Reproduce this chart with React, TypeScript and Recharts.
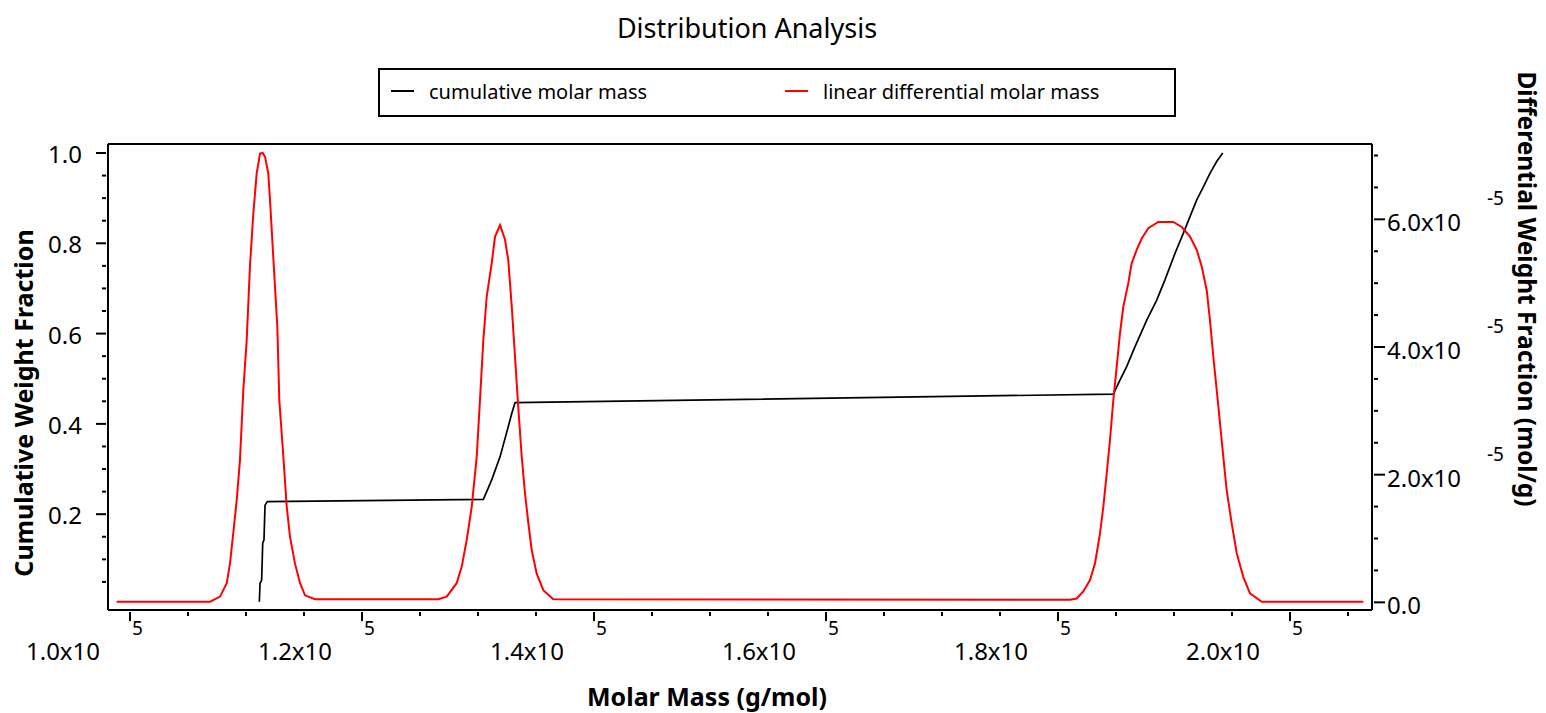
import React from 'react';
import { ComposedChart, Line, XAxis, YAxis, Legend, Label, ReferenceLine } from 'recharts';

// ---- data ----
const diffMass = [
  98850, 106900, 107760, 108340, 108620, 108900, 109200, 109480, 109770, 110060,
  110340, 110630, 110920, 111210, 111440, 111640, 111920, 112070, 112350, 112700,
  112870, 113220, 113510, 113790, 114220, 114660, 115090, 115950, 126580, 127300,
  128160, 128600, 129030, 129460, 129890, 130170, 130460, 130750, 131180, 131470,
  131900, 132330, 132610, 132910, 133190, 133470, 133770, 134050, 134340, 134630,
  135060, 135630, 136490, 181030, 181610, 182180, 182760, 183190, 183620, 183910,
  184200, 184480, 184770, 185060, 185340, 185630, 186060, 186350, 186780, 187220,
  187780, 188650, 189940, 190660, 191380, 191960, 192390, 192820, 193100, 193390,
  193680, 193970, 194250, 194540, 194970, 195410, 195970, 196550, 197560, 206320,
];
const diffFraction = [
  0.01e-5, 0.01e-5, 0.09e-5, 0.30e-5, 0.61e-5, 1.08e-5, 1.60e-5, 2.23e-5, 3.33e-5, 4.11e-5,
  5.26e-5, 6.09e-5, 6.72e-5, 7.03e-5, 7.04e-5, 6.98e-5, 6.72e-5, 6.30e-5, 5.41e-5, 4.32e-5,
  3.17e-5, 2.28e-5, 1.50e-5, 1.03e-5, 0.61e-5, 0.30e-5, 0.11e-5, 0.05e-5, 0.05e-5, 0.09e-5,
  0.30e-5, 0.56e-5, 0.98e-5, 1.50e-5, 2.28e-5, 3.17e-5, 4.11e-5, 4.79e-5, 5.31e-5, 5.73e-5,
  5.91e-5, 5.68e-5, 5.36e-5, 4.63e-5, 3.85e-5, 3.06e-5, 2.28e-5, 1.71e-5, 1.24e-5, 0.82e-5,
  0.45e-5, 0.19e-5, 0.05e-5, 0.04e-5, 0.06e-5, 0.17e-5, 0.35e-5, 0.61e-5, 1.08e-5, 1.50e-5,
  2.02e-5, 2.54e-5, 3.17e-5, 3.69e-5, 4.21e-5, 4.63e-5, 5.00e-5, 5.31e-5, 5.52e-5, 5.70e-5,
  5.86e-5, 5.96e-5, 5.96e-5, 5.88e-5, 5.73e-5, 5.52e-5, 5.26e-5, 4.89e-5, 4.42e-5, 3.85e-5,
  3.33e-5, 2.80e-5, 2.28e-5, 1.76e-5, 1.24e-5, 0.77e-5, 0.40e-5, 0.14e-5, 0.01e-5, 0.01e-5,
];
const cumMass = [
  111150, 111210, 111350, 111440, 111550, 111640, 111840, 130460, 130750, 131180,
  131900, 132610, 132910, 133190, 184770, 185340, 185920, 186640, 187650, 188510,
  189220, 190090, 190800, 191380, 191960, 192530, 193100, 193680, 194200,
];
const cumFraction = [
  0.006, 0.047, 0.054, 0.136, 0.143, 0.220, 0.228, 0.233, 0.250, 0.276,
  0.327, 0.394, 0.423, 0.447, 0.466, 0.497, 0.527, 0.571, 0.630, 0.674,
  0.719, 0.778, 0.822, 0.859, 0.896, 0.925, 0.955, 0.981, 1.000,
];

const seriesNames = ['cumulative molar mass', 'linear differential molar mass'];
const seriesColors = ['#000000', '#ff0000'];

const xTicks = [
  100000, 105000, 110000, 115000, 120000, 125000, 130000, 135000, 140000, 145000, 150000,
  155000, 160000, 165000, 170000, 175000, 180000, 185000, 190000, 195000, 200000, 205000,
];
const xMajor = [100000, 120000, 140000, 160000, 180000, 200000];
const leftTicks = [
  0.05, 0.1, 0.15, 0.2, 0.25, 0.3, 0.35, 0.4, 0.45, 0.5, 0.55, 0.6, 0.65, 0.7, 0.75, 0.8,
  0.85, 0.9, 0.95, 1.0,
];
const leftMajor = [0.2, 0.4, 0.6, 0.8, 1.0];
const rightTicks = [
  0, 0.5e-5, 1e-5, 1.5e-5, 2e-5, 2.5e-5, 3e-5, 3.5e-5, 4e-5, 4.5e-5, 5e-5, 5.5e-5, 6e-5,
  6.5e-5, 7e-5,
];
const rightMajor = [0, 2e-5, 4e-5, 6e-5];

const xDomain = [98103, 207069];
const leftDomain = [-0.0122, 1.0199];
const rightDomain = [-0.12e-5, 7.18e-5];

const FONT = "'Noto Sans', 'Open Sans', sans-serif";

const diffData = diffMass.map((m, i) => ({ m, v: diffFraction[i] }));
const cumData = cumMass.map((m, i) => ({ m, v: cumFraction[i] }));

const near = (a: number, list: number[], eps: number) => list.some((b) => Math.abs(a - b) < eps);

const XTick = (props: any) => {
  const { x, y, payload } = props;
  const v = payload.value;
  const major = near(v, xMajor, 1);
  return (
    <g>
      <line x1={x} x2={x} y1={y + 2} y2={y + (major ? 11 : 6)} stroke="#000" strokeWidth={2} />
      {major && (
        <text x={x + 2} y={y + 25} fontSize={19} fontFamily={FONT} fill="#000">5</text>
      )}
      {major && (
        <text x={x - 67} y={y + 50} fontSize={24} fontFamily={FONT} fill="#000" textAnchor="middle">
          {(v / 1e5).toFixed(1) + 'x10'}
        </text>
      )}
    </g>
  );
};

const LeftTick = (props: any) => {
  const { x, y, payload } = props;
  const v = payload.value;
  const major = near(v, leftMajor, 1e-6);
  return (
    <g>
      <line x1={x - 2} x2={x - (major ? 12 : 6)} y1={y} y2={y} stroke="#000" strokeWidth={2} />
      {major && (
        <text x={x - 26} y={y + 10} fontSize={24} fontFamily={FONT} fill="#000" textAnchor="end">
          {v.toFixed(1)}
        </text>
      )}
    </g>
  );
};

const RightTick = (props: any) => {
  const { x, y, payload } = props;
  const v = payload.value;
  const major = near(v, rightMajor, 1e-9);
  const isZero = Math.abs(v) < 1e-12;
  return (
    <g>
      <line x1={x + 2} x2={x + (major ? 13 : 6)} y1={y} y2={y} stroke="#000" strokeWidth={2} />
      {major && (
        <text x={x + 15} y={y + 12} fontSize={24} fontFamily={FONT} fill="#000">
          {isZero ? '0.0' : (v / 1e-5).toFixed(1) + 'x10'}
        </text>
      )}
      {major && !isZero && (
        <text x={x + 115} y={y - 14} fontSize={19} fontFamily={FONT} fill="#000">-5</text>
      )}
    </g>
  );
};

const renderLegend = () => (
  <div
    style={{
      position: 'relative',
      width: 798,
      height: 49,
      boxSizing: 'border-box',
      border: '2px solid #000',
      background: '#fff',
      fontFamily: FONT,
    }}
  >
    {seriesNames.map((name, i) => (
      <div key={name} style={{ position: 'absolute', left: 11 + i * 394, top: 0, height: 45 }}>
        <div
          style={{
            position: 'absolute',
            left: 0,
            top: 20,
            width: 23,
            height: 2,
            background: seriesColors[i],
          }}
        />
        <div
          style={{
            position: 'absolute',
            left: 38,
            top: 8,
            whiteSpace: 'nowrap',
            fontSize: 20,
            lineHeight: '28px',
            color: '#000',
          }}
        >
          {name}
        </div>
      </div>
    ))}
  </div>
);

const XTitle = (props: any) => {
  const vb = props.viewBox || { x: 108, y: 610, width: 1264, height: 103 };
  return (
    <text
      x={vb.x + vb.width / 2 - 33}
      y={vb.y + 96}
      textAnchor="middle"
      fontSize={25}
      fontWeight="bold"
      fontFamily={FONT}
      fill="#000"
    >
      Molar Mass (g/mol)
    </text>
  );
};

const LeftTitle = (props: any) => {
  const vb = props.viewBox || { x: 0, y: 144, width: 108, height: 466 };
  const cx = vb.x + 33;
  const cy = vb.y + vb.height / 2 + 26;
  return (
    <text
      x={cx}
      y={cy}
      transform={`rotate(-90 ${cx} ${cy})`}
      textAnchor="middle"
      fontSize={25}
      fontWeight="bold"
      fontFamily={FONT}
      fill="#000"
    >
      Cumulative Weight Fraction
    </text>
  );
};

const RightTitle = (props: any) => {
  const vb = props.viewBox || { x: 1372, y: 144, width: 174, height: 466 };
  const cx = vb.x + 146;
  const cy = vb.y + vb.height / 2 - 88;
  return (
    <text
      x={cx}
      y={cy}
      transform={`rotate(90 ${cx} ${cy})`}
      textAnchor="middle"
      fontSize={24.5}
      fontWeight="bold"
      fontFamily={FONT}
      fill="#000"
    >
      Differential Weight Fraction (mol/g)
    </text>
  );
};

export default function App() {
  return (
    <div
      style={{
        position: 'absolute',
        left: 0,
        top: 0,
        width: 1546,
        height: 713,
        background: '#fff',
        fontFamily: FONT,
      }}
    >
      <div
        style={{
          position: 'absolute',
          left: 0,
          top: 14,
          width: 1494,
          textAlign: 'center',
          fontSize: 27,
          lineHeight: '27px',
          color: '#000',
          zIndex: 2,
        }}
      >
        Distribution Analysis
      </div>
      <ComposedChart
        width={1546}
        height={713}
        margin={{ top: 144, right: 0, bottom: 0, left: 0 }}
      >
        <XAxis
          xAxisId="bottom"
          dataKey="m"
          type="number"
          orientation="bottom"
          domain={xDomain}
          allowDataOverflow
          ticks={xTicks}
          interval={0}
          height={103}
          tickSize={0}
          tickMargin={0}
          tickLine={false}
          tick={<XTick />}
          axisLine={{ stroke: '#000', strokeWidth: 2 }}
        >
          <Label content={<XTitle />} />
        </XAxis>
        <YAxis
          yAxisId="left"
          orientation="left"
          type="number"
          domain={leftDomain}
          allowDataOverflow
          ticks={leftTicks}
          interval={0}
          width={108}
          tickSize={0}
          tickMargin={0}
          tickLine={false}
          tick={<LeftTick />}
          axisLine={{ stroke: '#000', strokeWidth: 2 }}
        >
          <Label content={<LeftTitle />} />
        </YAxis>
        <YAxis
          yAxisId="right"
          orientation="right"
          type="number"
          domain={rightDomain}
          allowDataOverflow
          ticks={rightTicks}
          interval={0}
          width={174}
          tickSize={0}
          tickMargin={0}
          tickLine={false}
          tick={<RightTick />}
          axisLine={{ stroke: '#000', strokeWidth: 2 }}
        >
          <Label content={<RightTitle />} />
        </YAxis>
        <ReferenceLine
          xAxisId="bottom"
          yAxisId="left"
          y={leftDomain[1]}
          stroke="#000"
          strokeWidth={2}
          ifOverflow="extendDomain"
        />
        <Legend
          layout="horizontal"
          verticalAlign="middle"
          align="center"
          content={renderLegend}
          wrapperStyle={{ left: 378, top: 68, width: 798, height: 49 }}
        />
        <Line
          data={cumData}
          xAxisId="bottom"
          yAxisId="left"
          dataKey="v"
          name={seriesNames[0]}
          type="linear"
          stroke={seriesColors[0]}
          strokeWidth={1.7}
          dot={false}
          activeDot={false}
          isAnimationActive={false}
        />
        <Line
          data={diffData}
          xAxisId="bottom"
          yAxisId="right"
          dataKey="v"
          name={seriesNames[1]}
          type="linear"
          stroke={seriesColors[1]}
          strokeWidth={2}
          dot={false}
          activeDot={false}
          isAnimationActive={false}
        />
      </ComposedChart>
    </div>
  );
}
